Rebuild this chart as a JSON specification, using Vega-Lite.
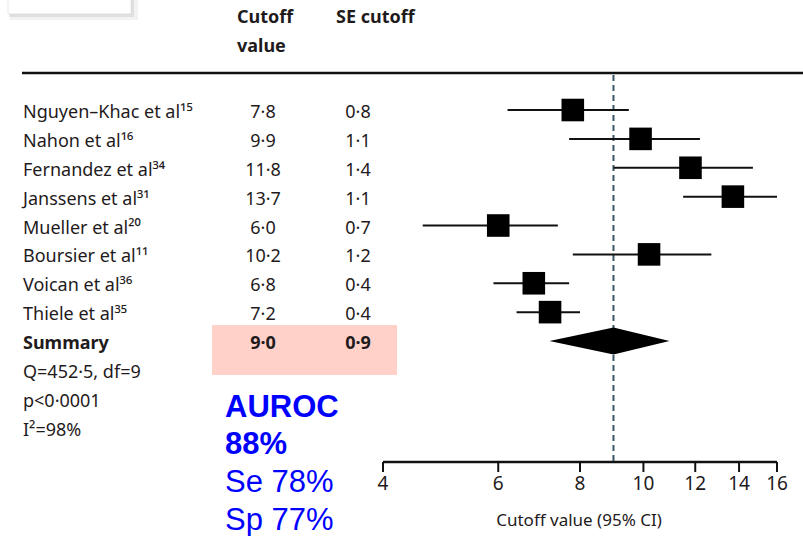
{
  "$schema": "https://vega.github.io/schema/vega-lite/v6.json",
  "width": 803,
  "height": 536,
  "autosize": {"type": "none"},
  "padding": 0,
  "background": "white",
  "config": {"view": {"stroke": null}, "font": "Noto Sans", "text": {"color": "#1f1b1c"}},
  "datasets": {
    "studies": [
      {"row": 1, "study": "Nguyen–Khac et al¹⁵", "cutoff": 7.8, "se": 0.8, "lo": 6.2, "hi": 9.5},
      {"row": 2, "study": "Nahon et al¹⁶", "cutoff": 9.9, "se": 1.1, "lo": 7.7, "hi": 12.2},
      {"row": 3, "study": "Fernandez et al³⁴", "cutoff": 11.8, "se": 1.4, "lo": 9.0, "hi": 14.7},
      {"row": 4, "study": "Janssens et al³¹", "cutoff": 13.7, "se": 1.1, "lo": 11.5, "hi": 16.0},
      {"row": 5, "study": "Mueller et al²⁰", "cutoff": 6.0, "se": 0.7, "lo": 4.6, "hi": 7.4},
      {"row": 6, "study": "Boursier et al¹¹", "cutoff": 10.2, "se": 1.2, "lo": 7.8, "hi": 12.7},
      {"row": 7, "study": "Voican et al³⁶", "cutoff": 6.8, "se": 0.4, "lo": 5.9, "hi": 7.7},
      {"row": 8, "study": "Thiele et al³⁵", "cutoff": 7.2, "se": 0.4, "lo": 6.4, "hi": 8.0}
    ],
    "summary": [
      {"row": 9, "study": "Summary", "cutoff": 9.0, "se": 0.9, "lo": 7.2, "hi": 10.8}
    ],
    "stats": [
      {"row": 10, "text": "Q=452·5, df=9"},
      {"row": 11, "text": "p<0·0001"},
      {"row": 12, "text": "I²=98%"}
    ],
    "header": [
      {"row": -2, "cutoffHead": "Cutoff", "seHead": "SE cutoff"},
      {"row": -1, "cutoffHead": "value", "seHead": ""}
    ],
    "metrics": [
      {"row": 11, "text": "AUROC\n88%", "strong": true},
      {"row": 13, "text": "Se 78%\nSp 77%", "strong": false}
    ],
    "ticks": [
      {"v": 4, "row": 13.19}, {"v": 6, "row": 13.19}, {"v": 8, "row": 13.19}, {"v": 10, "row": 13.19},
      {"v": 12, "row": 13.19}, {"v": 14, "row": 13.19}, {"v": 16, "row": 13.19}
    ],
    "axisTitle": [
      {"title": "Cutoff value (95% CI)"}
    ]
  },
  "encoding": {
    "y": {
      "field": "row",
      "type": "quantitative",
      "scale": {"domain": [-2.81, 15.753], "reverse": true, "nice": false, "zero": false},
      "axis": null
    }
  },
  "layer": [
    {
      "data": {"values": [{}]},
      "mark": {"type": "rect", "fill": "#000000", "opacity": 0.05},
      "encoding": {"x": {"value": 10}, "x2": {"value": 138}, "y": {"value": -10}, "y2": {"value": 20}}
    },
    {
      "data": {"values": [{}]},
      "mark": {"type": "rect", "fill": "#000000", "opacity": 0.07},
      "encoding": {"x": {"value": 9}, "x2": {"value": 134}, "y": {"value": -10}, "y2": {"value": 17}}
    },
    {
      "data": {"values": [{}]},
      "mark": {"type": "rect", "fill": "white", "stroke": "#d6d6d6", "strokeWidth": 0.6},
      "encoding": {"x": {"value": 8}, "x2": {"value": 131}, "y": {"value": -10}, "y2": {"value": 14}}
    },
    {
      "data": {"name": "summary"},
      "mark": {"type": "point", "shape": "M-1,-0.173H1V0.368H-1Z", "filled": true, "size": 34225, "color": "#ffd1c9", "opacity": 1, "strokeWidth": 0},
      "encoding": {"x": {"value": 304.5}}
    },
    {
      "data": {"name": "header"},
      "mark": {"type": "text", "align": "left", "baseline": "alphabetic", "fontSize": 18, "fontWeight": "bold"},
      "encoding": {"x": {"value": 237}, "text": {"field": "cutoffHead"}}
    },
    {
      "data": {"name": "header"},
      "mark": {"type": "text", "align": "left", "baseline": "alphabetic", "fontSize": 18, "fontWeight": "bold"},
      "encoding": {"x": {"value": 336}, "text": {"field": "seHead"}}
    },
    {
      "data": {"name": "header"},
      "transform": [{"filter": "datum.row == -1"}],
      "mark": {"type": "point", "shape": "M-1,0.0499H1V0.0563H-1Z", "filled": true, "size": 609961, "color": "#111111", "opacity": 1, "strokeWidth": 0},
      "encoding": {"x": {"value": 412.5}}
    },
    {
      "data": {"name": "studies"},
      "mark": {"type": "text", "align": "left", "baseline": "alphabetic", "dy": 8, "fontSize": 18},
      "encoding": {"x": {"value": 23}, "text": {"field": "study"}}
    },
    {
      "data": {"name": "studies"},
      "transform": [{"calculate": "replace(format(datum.cutoff, '.1f'), '.', '·')", "as": "label"}],
      "mark": {"type": "text", "align": "center", "baseline": "alphabetic", "dy": 8, "fontSize": 18},
      "encoding": {"x": {"value": 263}, "text": {"field": "label"}}
    },
    {
      "data": {"name": "studies"},
      "transform": [{"calculate": "replace(format(datum.se, '.1f'), '.', '·')", "as": "label"}],
      "mark": {"type": "text", "align": "center", "baseline": "alphabetic", "dy": 8, "fontSize": 18},
      "encoding": {"x": {"value": 358}, "text": {"field": "label"}}
    },
    {
      "data": {"name": "summary"},
      "mark": {"type": "text", "align": "left", "baseline": "alphabetic", "dy": 8, "fontSize": 18, "fontWeight": "bold"},
      "encoding": {"x": {"value": 23}, "text": {"field": "study"}}
    },
    {
      "data": {"name": "summary"},
      "transform": [{"calculate": "replace(format(datum.cutoff, '.1f'), '.', '·')", "as": "label"}],
      "mark": {"type": "text", "align": "center", "baseline": "alphabetic", "dy": 8, "fontSize": 18, "fontWeight": "bold"},
      "encoding": {"x": {"value": 263}, "text": {"field": "label"}}
    },
    {
      "data": {"name": "summary"},
      "transform": [{"calculate": "replace(format(datum.se, '.1f'), '.', '·')", "as": "label"}],
      "mark": {"type": "text", "align": "center", "baseline": "alphabetic", "dy": 8, "fontSize": 18, "fontWeight": "bold"},
      "encoding": {"x": {"value": 358}, "text": {"field": "label"}}
    },
    {
      "data": {"name": "stats"},
      "mark": {"type": "text", "align": "left", "baseline": "alphabetic", "dy": 8, "fontSize": 18},
      "encoding": {"x": {"value": 23}, "text": {"field": "text"}}
    },
    {
      "data": {"name": "metrics"},
      "transform": [{"filter": "datum.strong"}],
      "mark": {"type": "text", "lineBreak": "\n", "lineHeight": 37.7, "align": "left", "baseline": "alphabetic", "dy": 18, "fontSize": 31, "fontWeight": "bold", "font": "Liberation Sans", "color": "#0000ff"},
      "encoding": {"x": {"value": 225}, "text": {"field": "text"}}
    },
    {
      "data": {"name": "metrics"},
      "transform": [{"filter": "!datum.strong"}],
      "mark": {"type": "text", "lineBreak": "\n", "lineHeight": 37.7, "align": "left", "baseline": "alphabetic", "dy": 35.5, "fontSize": 31, "font": "Liberation Sans", "color": "#0000ff"},
      "encoding": {"x": {"value": 225}, "text": {"field": "text"}}
    },
    {
      "data": {"name": "ticks"},
      "transform": [{"aggregate": [{"op": "min", "field": "v", "as": "first"}, {"op": "max", "field": "v", "as": "last"}], "groupby": ["row"]}],
      "mark": {"type": "rule", "color": "#111111", "strokeWidth": 2.5},
      "encoding": {
        "x": {
          "field": "first",
          "type": "quantitative",
          "scale": {"type": "log", "domain": [4, 16], "range": [383, 777], "nice": false},
          "axis": null
        },
        "x2": {"field": "last"}
      }
    },
    {
      "data": {"name": "ticks"},
      "mark": {"type": "rule", "color": "#111111", "strokeWidth": 2},
      "encoding": {
        "x": {"field": "v", "type": "quantitative", "axis": null},
        "y2": {"datum": 13.536}
      }
    },
    {
      "data": {"name": "ticks"},
      "mark": {"type": "text", "align": "center", "baseline": "alphabetic", "dy": 28, "fontSize": 19},
      "encoding": {
        "x": {"field": "v", "type": "quantitative", "axis": null},
        "text": {"field": "v", "type": "quantitative"}
      }
    },
    {
      "data": {"name": "axisTitle"},
      "mark": {"type": "text", "align": "center", "baseline": "alphabetic", "fontSize": 17},
      "encoding": {"x": {"value": 579}, "y": {"value": 526}, "text": {"field": "title"}}
    },
    {
      "data": {"name": "summary"},
      "mark": {"type": "rule", "color": "#3b5566", "strokeWidth": 2, "strokeDash": [6, 4]},
      "encoding": {
        "x": {"field": "cutoff", "type": "quantitative", "axis": null},
        "y": {"datum": -0.21, "type": "quantitative"},
        "y2": {"datum": 13.19}
      }
    },
    {
      "data": {"name": "studies"},
      "mark": {"type": "rule", "color": "#111111", "strokeWidth": 2},
      "encoding": {
        "x": {"field": "lo", "type": "quantitative", "axis": null},
        "x2": {"field": "hi"}
      }
    },
    {
      "data": {"name": "studies"},
      "mark": {"type": "point", "shape": "square", "filled": true, "size": 510, "color": "#000000", "opacity": 1},
      "encoding": {
        "x": {"field": "cutoff", "type": "quantitative", "axis": null}
      }
    },
    {
      "data": {"name": "summary"},
      "mark": {"type": "point", "shape": "M-1,0L0,-0.21L0.875,0L0,0.21Z", "filled": true, "size": 16384, "color": "#000000", "opacity": 1},
      "encoding": {
        "x": {"field": "cutoff", "type": "quantitative", "axis": null}
      }
    }
  ]
}
